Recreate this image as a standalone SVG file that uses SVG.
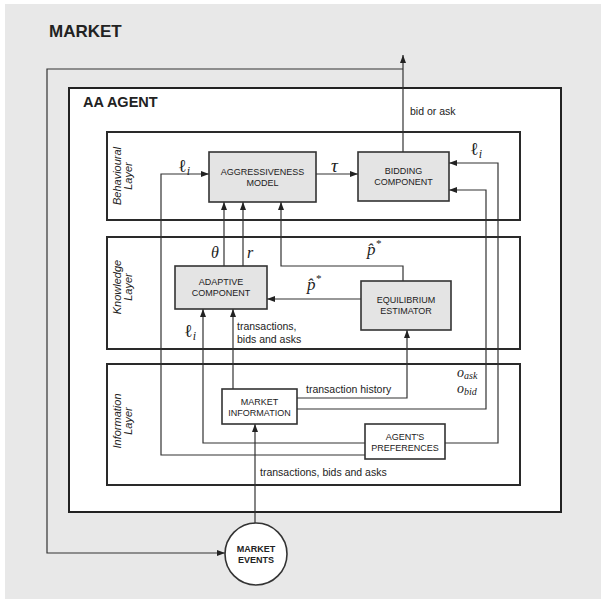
<svg xmlns="http://www.w3.org/2000/svg" width="605" height="602" viewBox="0 0 605 602">
<defs>
<style>
.lbl{font-family:"Liberation Sans",Arial,sans-serif;fill:#222}
.node{font-size:9px;text-anchor:middle}
.small{font-size:10.5px}
.layer{font-size:11px;font-style:italic;text-anchor:middle}
.m{font-family:"Liberation Serif","DejaVu Serif",serif;font-style:italic;fill:#222}
.ell{font-style:normal}
.box{stroke:#333;stroke-width:1.6}
.grey{fill:#e4e4e4}
.white{fill:#fff}
.lay{fill:#fff;stroke:#2a2a2a;stroke-width:2}
.c{fill:none;stroke:#333;stroke-width:1.2}
</style>
<marker id="ah" markerWidth="8" markerHeight="6" refX="8" refY="3" orient="auto" markerUnits="userSpaceOnUse">
<path d="M0,0 L8,3 L0,6 z" fill="#222"/>
</marker>
</defs>
<rect x="0" y="0" width="605" height="602" fill="#fff"/>
<rect x="5" y="4" width="596" height="595" fill="#e8e8e8"/>
<text class="lbl" x="49" y="37" font-size="17" font-weight="bold">MARKET</text>

<g id="aa-agent">
<rect x="69" y="88" width="492" height="424" fill="#fff" stroke="#222" stroke-width="2"/>
<text class="lbl" x="83" y="107" font-size="14.5" font-weight="bold">AA AGENT</text>
</g>

<g id="behavioural-layer">
<rect class="lay" x="107" y="132" width="413" height="88"/>
<text class="lbl layer" transform="translate(121,176) rotate(-90)">Behavioural</text>
<text class="lbl layer" transform="translate(132,176) rotate(-90)">Layer</text>
</g>
<g id="knowledge-layer">
<rect class="lay" x="107" y="237" width="413" height="112"/>
<text class="lbl layer" transform="translate(121,287) rotate(-90)">Knowledge</text>
<text class="lbl layer" transform="translate(132,287) rotate(-90)">Layer</text>
</g>
<g id="information-layer">
<rect class="lay" x="107" y="364" width="413" height="121"/>
<text class="lbl layer" transform="translate(121,421) rotate(-90)">Information</text>
<text class="lbl layer" transform="translate(132,421) rotate(-90)">Layer</text>
</g>

<g id="connectors">
<polyline class="c" points="403,152 403,55" marker-end="url(#ah)"/>
<polyline class="c" points="403,69 47,69 47,553 225,553" marker-end="url(#ah)"/>
<polyline class="c" points="255,523 255,424" marker-end="url(#ah)"/>
<polyline class="c" points="233,389 233,309" marker-end="url(#ah)"/>
<polyline class="c" points="297,398 407,398 407,330" marker-end="url(#ah)"/>
<polyline class="c" points="297,409 486,409 486,190 449,190" marker-end="url(#ah)"/>
<polyline class="c" points="365,443 203,443 203,309" marker-end="url(#ah)"/>
<polyline class="c" points="365,455 161,455 161,174 209,174" marker-end="url(#ah)"/>
<polyline class="c" points="445,443 498,443 498,163 449,163" marker-end="url(#ah)"/>
<polyline class="c" points="224,266 224,202" marker-end="url(#ah)"/>
<polyline class="c" points="243,266 243,202" marker-end="url(#ah)"/>
<polyline class="c" points="403,281 403,266 281,266 281,202" marker-end="url(#ah)"/>
<polyline class="c" points="361,299 267,299" marker-end="url(#ah)"/>
<polyline class="c" points="316,174 358,174" marker-end="url(#ah)"/>

<text class="lbl small" x="410" y="115">bid or ask</text>
<text class="lbl small" x="260" y="476">transactions, bids and asks</text>
<text class="lbl small" x="237" y="330">transactions,</text>
<text class="lbl small" x="237" y="343">bids and asks</text>
<text class="lbl small" x="306" y="393">transaction history</text>

<text class="m" x="178" y="172" font-size="18"><tspan class="ell">ℓ</tspan><tspan font-size="12" dy="3">i</tspan></text>
<text class="m" x="470" y="155" font-size="18"><tspan class="ell">ℓ</tspan><tspan font-size="12" dy="3">i</tspan></text>
<text class="m" x="184" y="337" font-size="18"><tspan class="ell">ℓ</tspan><tspan font-size="12" dy="3">i</tspan></text>
<text class="m" x="331" y="172" font-size="19">τ</text>
<text class="m" x="211" y="258" font-size="16">θ</text>
<text class="m" x="247" y="258" font-size="16">r</text>
<text class="m" x="367" y="255" font-size="17">p̂<tspan font-size="11" dy="-8">*</tspan></text>
<text class="m" x="307" y="290" font-size="17">p̂<tspan font-size="11" dy="-8">*</tspan></text>
<text class="m" x="457" y="377" font-size="14">o<tspan font-size="10" dy="2">ask</tspan></text>
<text class="m" x="457" y="393" font-size="14">o<tspan font-size="10" dy="2">bid</tspan></text>
</g>

<g id="aggressiveness-model">
<rect class="box grey" x="209" y="152" width="107" height="50"/>
<text class="lbl node" x="262.5" y="175">AGGRESSIVENESS</text>
<text class="lbl node" x="262.5" y="186">MODEL</text>
</g>
<g id="bidding-component">
<rect class="box grey" x="358" y="152" width="91" height="49"/>
<text class="lbl node" x="403.5" y="174">BIDDING</text>
<text class="lbl node" x="403.5" y="185">COMPONENT</text>
</g>
<g id="adaptive-component">
<rect class="box grey" x="175" y="266" width="92" height="43"/>
<text class="lbl node" x="221" y="285">ADAPTIVE</text>
<text class="lbl node" x="221" y="296">COMPONENT</text>
</g>
<g id="equilibrium-estimator">
<rect class="box grey" x="361" y="281" width="90" height="49"/>
<text class="lbl node" x="406" y="303">EQUILIBRIUM</text>
<text class="lbl node" x="406" y="314">ESTIMATOR</text>
</g>
<g id="market-information">
<rect class="box white" x="222" y="389" width="75" height="35"/>
<text class="lbl node" x="259.5" y="405">MARKET</text>
<text class="lbl node" x="259.5" y="416">INFORMATION</text>
</g>
<g id="agents-preferences">
<rect class="box white" x="365" y="424" width="80" height="35"/>
<text class="lbl node" x="405" y="440">AGENT'S</text>
<text class="lbl node" x="405" y="451">PREFERENCES</text>
</g>
<g id="market-events">
<circle cx="256" cy="554" r="31" fill="#fff" stroke="#333" stroke-width="1.6"/>
<text class="lbl node" x="256" y="552" font-weight="bold">MARKET</text>
<text class="lbl node" x="256" y="563" font-weight="bold">EVENTS</text>
</g>
</svg>
